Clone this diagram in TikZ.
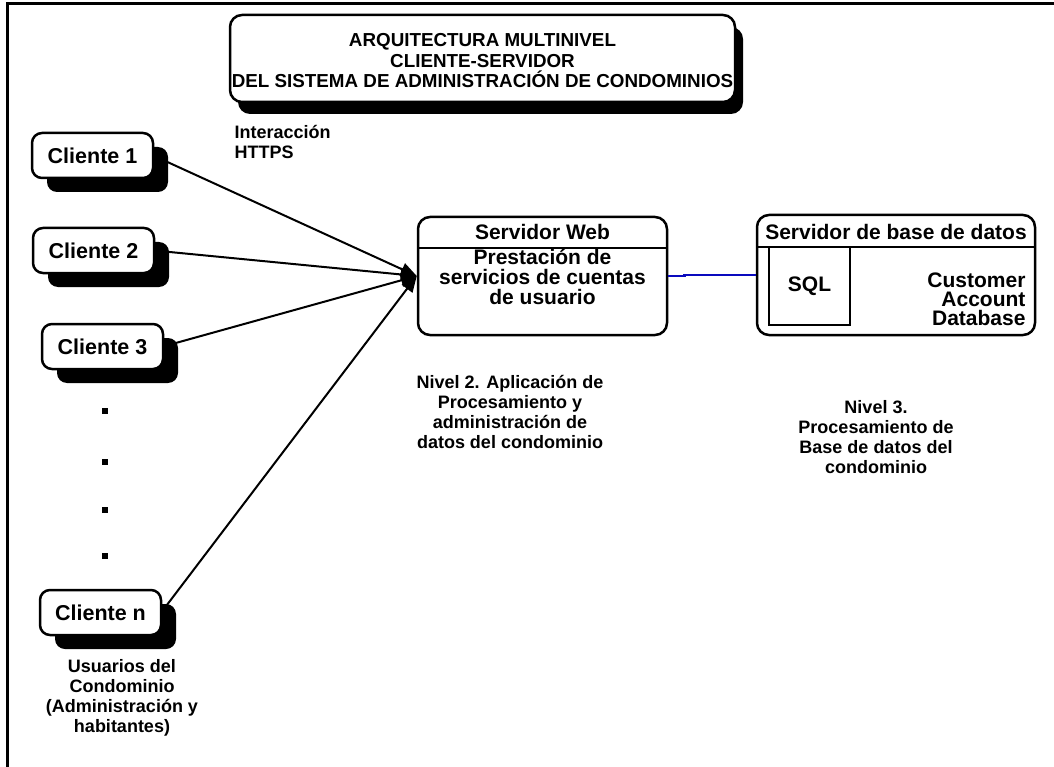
\documentclass[tikz,border=0pt]{standalone}
\usepackage{fontspec}
\setmainfont{Liberation Sans}
\usetikzlibrary{arrows.meta}
\definecolor{linkblue}{RGB}{10,10,190}
\tikzset{
  frame/.style={line width=3pt},
  shadowbox/.style={fill=black, rounded corners=10pt, inner sep=0pt},
  clientbox/.style={draw, line width=2.5pt, fill=white, rounded corners=10pt,
     minimum width=121pt, minimum height=45pt, inner sep=0pt,
     font=\fontsize{21.5}{24}\selectfont\bfseries},
  serverbox/.style={draw, line width=2.5pt, fill=white, rounded corners=12pt, inner sep=0pt},
  label/.style={align=center, font=\fontsize{18}{20}\selectfont\bfseries},
  conn/.style={line width=2pt, -{Triangle[length=16pt,width=13pt]}},
  dot/.style={fill=black, minimum size=6pt, inner sep=0pt}
}
\begin{document}
\begin{tikzpicture}[x=1pt,y=-1pt]
\useasboundingbox (0,0) rectangle (1054,767);
% outer frame
\draw[frame] (7,767) -- (7,4) -- (1054,4);

% title
\node[shadowbox, rounded corners=12pt, minimum width=505pt, minimum height=87pt] (titles) at (490.5,70.5) {};
\node[serverbox, minimum width=505pt, minimum height=87pt] (title) at (482.5,58.5) {};
\node[align=center, font=\fontsize{18.8}{20.5}\selectfont\bfseries] (titletext) at (482.5,61)
  {ARQUITECTURA MULTINIVEL\\CLIENTE-SERVIDOR\\DEL SISTEMA DE ADMINISTRACIÓN DE CONDOMINIOS};

\node[label, align=left, anchor=north west] (https) at (231,122) {Interacción\\ HTTPS};

% servers
\node[serverbox, minimum width=249pt, minimum height=118pt] (sw) at (542.5,276) {};
\draw[line width=2pt] (418,248) -- (667,248);
\node[font=\fontsize{21}{22}\selectfont\bfseries] (swt) at (542.5,232) {Servidor Web};
\node[align=center, font=\fontsize{21}{20}\selectfont\bfseries] (swb) at (542.5,277)
  {Prestación de\\servicios de cuentas\\de usuario};

\node[serverbox, minimum width=278pt, minimum height=120pt] (db) at (896,275) {};
\draw[line width=2pt] (757,247) -- (1035,247);
\node[font=\fontsize{21}{22}\selectfont\bfseries] (dbt) at (896,232) {Servidor de base de datos};
\node[draw, line width=2.5pt, minimum width=81pt, minimum height=78pt, inner sep=0pt,
      font=\fontsize{21}{22}\selectfont\bfseries] (sql) at (809.5,286) {SQL};
\node[align=right, anchor=east, font=\fontsize{21}{19}\selectfont\bfseries] (cad) at (1029,299)
  {Customer\\Account\\Database};

% connectors (drawn behind client shadows)
\coordinate (c1p) at (92.5,155.5);
\coordinate (c2p) at (93.5,250.5);
\coordinate (c3p) at (102.5,346.5);
\coordinate (cnp) at (100.5,612.5);
\node[minimum width=121pt, minimum height=45pt, inner sep=0pt] (c1) at (c1p) {};
\node[minimum width=121pt, minimum height=45pt, inner sep=0pt] (c2) at (c2p) {};
\node[minimum width=121pt, minimum height=45pt, inner sep=0pt] (c3) at (c3p) {};
\node[minimum width=121pt, minimum height=45pt, inner sep=0pt] (cn) at (cnp) {};
\draw[conn] (c1.east) -- (sw.west);
\draw[conn] (c2.east) -- (sw.west);
\draw[conn] (c3.east) -- (sw.west);
\draw[conn] (cn.east) -- (sw.west);

% clients
\foreach \n/\t in {c1/Cliente 1, c2/Cliente 2, c3/Cliente 3, cn/Cliente n}{
  \node[shadowbox, minimum width=121pt, minimum height=45pt] (\n s) at ([xshift=15pt,yshift=-14pt]\n.center) {};
  \node[clientbox] (\n b) at (\n.center) {\t};
}

% dots
\node[dot] (d1) at (105,411) {};
\node[dot] (d2) at (105,462) {};
\node[dot] (d3) at (105,510) {};
\node[dot] (d4) at (105,556) {};

% db link
\draw[linkblue, line width=2.5pt] (sw.east) -- ++(16,0) |- (db.west);

% labels
\node[label] (n2) at (510,412) {Nivel 2. Aplicación de\\Procesamiento y\\administración de\\datos del condominio};
\node[label] (n3) at (876,437) {Nivel 3.\\Procesamiento de\\Base de datos del\\condominio};
\node[label] (usr) at (122,698) {Usuarios del\\Condominio\\(Administración y\\habitantes)};
\end{tikzpicture}
\end{document}
